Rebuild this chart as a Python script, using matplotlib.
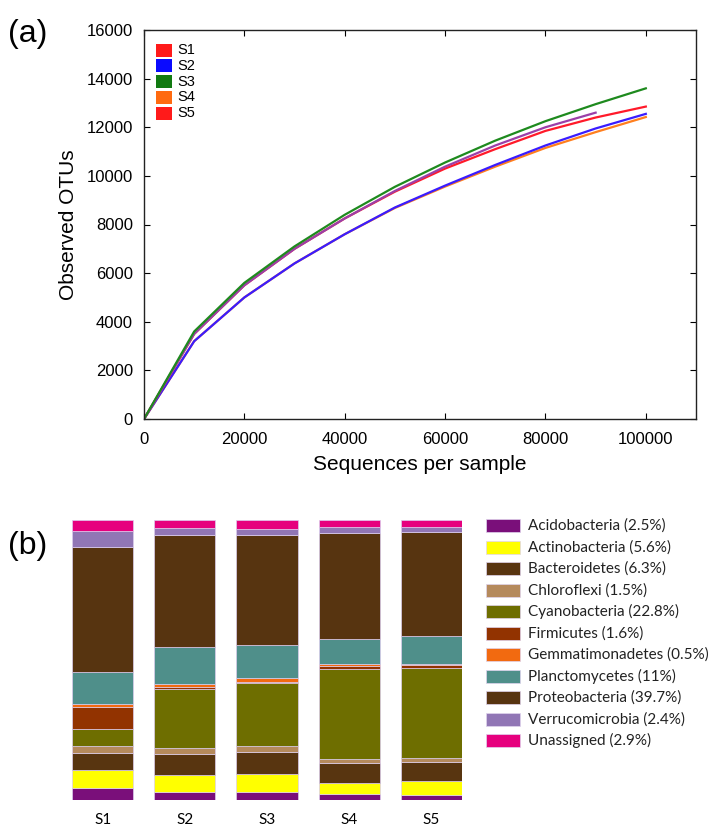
import matplotlib
matplotlib.use("Agg")
import matplotlib.pyplot as plt
from matplotlib.patches import Rectangle
import numpy as np

# ---------------- data: panel (a) rarefaction curves ----------------
seq_depth = [0, 10000, 20000, 30000, 40000, 50000, 60000, 70000, 80000, 90000, 100000]
otus_s1 = [0, 3500, 5500, 7000, 8250, 9350, 10300, 11100, 11850, 12400, 12850]
otus_s2 = [0, 3200, 5000, 6400, 7600, 8700, 9600, 10450, 11250, 11950, 12550]
otus_s3 = [0, 3600, 5600, 7100, 8400, 9550, 10550, 11450, 12250, 12950, 13600]
otus_s4 = [0, 3200, 5000, 6400, 7600, 8680, 9560, 10380, 11150, 11800, 12420]
seq_depth_s5 = [0, 10000, 20000, 30000, 40000, 50000, 60000, 70000, 80000, 90000]
otus_s5 = [0, 3500, 5500, 7000, 8250, 9380, 10380, 11250, 12000, 12600]

sample_names = ["S1", "S2", "S3", "S4", "S5"]
x_ticks_a = [0, 20000, 40000, 60000, 80000, 100000]
y_ticks_a = [0, 2000, 4000, 6000, 8000, 10000, 12000, 14000, 16000]

# ---------------- data: panel (b) phylum composition (%) ----------------
phyla = ["Acidobacteria (2.5%)", "Actinobacteria (5.6%)", "Bacteroidetes (6.3%)",
         "Chloroflexi (1.5%)", "Cyanobacteria (22.8%)", "Firmicutes (1.6%)",
         "Gemmatimonadetes (0.5%)", "Planctomycetes (11%)", "Proteobacteria (39.7%)",
         "Verrucomicrobia (2.4%)", "Unassigned (2.9%)"]
acidobacteria = [4.2, 3.0, 3.0, 2.1, 1.8]
actinobacteria = [6.6, 6.0, 6.2, 4.1, 4.9]
bacteroidetes = [6.0, 7.3, 7.9, 6.9, 6.7]
chloroflexi = [2.4, 2.1, 2.2, 1.6, 1.7]
cyanobacteria = [6.2, 21.1, 22.4, 32.1, 31.9]
firmicutes = [7.7, 0.8, 0.6, 1.0, 1.2]
gemmatimonadetes = [1.2, 1.2, 1.2, 0.6, 0.4]
planctomycetes = [11.5, 13.2, 11.9, 9.2, 9.8]
proteobacteria = [44.4, 39.9, 39.1, 37.9, 37.4]
verrucomicrobia = [6.0, 2.5, 2.4, 2.1, 1.8]
unassigned = [3.9, 3.0, 3.0, 2.5, 2.4]

phylum_values = [acidobacteria, actinobacteria, bacteroidetes, chloroflexi,
                 cyanobacteria, firmicutes, gemmatimonadetes, planctomycetes,
                 proteobacteria, verrucomicrobia, unassigned]
phylum_colors = ["#7a0f7a", "#ffff00", "#583510", "#b58a5c", "#6e6e00", "#923300",
                 "#f26a10", "#4f8f8a", "#573410", "#9176b5", "#e6007e"]

W, H = 718, 825
fig = plt.figure(figsize=(W / 100, H / 100), dpi=100)


def fx(x):
    return x / W


def fy(y):
    return 1 - y / H


# ---------------- panel (a) ----------------
ax = fig.add_axes([fx(144), fy(419), (696 - 144) / W, (419 - 30) / H])
lw = 1.6
ax.plot(seq_depth, otus_s4, color="#ff7f1e", lw=lw)
ax.plot(seq_depth, otus_s2, color="#3a1cff", lw=lw)
ax.plot(seq_depth, otus_s1, color="#ff1a2a", lw=lw)
ax.plot(seq_depth_s5, otus_s5, color="#9b3fa8", lw=lw)
ax.plot(seq_depth, otus_s3, color="#1e8a1e", lw=lw)
ax.set_xlim(0, 110000)
ax.set_ylim(0, 16000)
ax.set_xticks(x_ticks_a)
ax.set_yticks(y_ticks_a)
ax.set_xticklabels([str(v) for v in x_ticks_a], family="Liberation Sans")
ax.set_yticklabels([str(v) for v in y_ticks_a], family="Liberation Sans")
ax.tick_params(direction="in", top=True, right=True, labelsize=12, length=4,
               width=0.8, pad=8)
ax.tick_params(axis="x", pad=9)
for s in ax.spines.values():
    s.set_linewidth(1.0)
    s.set_color("#222222")
ax.set_xlabel("Sequences per sample", family="Liberation Sans", fontsize=15, labelpad=6)
ax.set_ylabel("Observed OTUs", family="Liberation Sans", fontsize=15, labelpad=6)

# legend of panel (a)
leg_a_colors = ["#ff1a1a", "#0a0aff", "#117a11", "#ff6a10", "#ff1a1a"]
for i, (name, c) in enumerate(zip(sample_names, leg_a_colors)):
    yc = 50 + 15.8 * i
    fig.add_artist(Rectangle((fx(156), fy(yc + 6.5)), 15.5 / W, 13 / H,
                             transform=fig.transFigure, facecolor=c, edgecolor="none"))
    fig.text(fx(177), fy(yc), name, family="Liberation Sans", fontsize=10.5,
             va="center", ha="left")

fig.text(fx(8), fy(34), "(a)", family="Liberation Sans", fontsize=23, va="center", ha="left")
fig.text(fx(8), fy(546), "(b)", family="Liberation Sans", fontsize=23, va="center", ha="left")

# ---------------- panel (b) ----------------
ax2 = fig.add_axes([fx(72), fy(800), (462 - 72) / W, 280 / H])
pos = np.arange(len(sample_names))
bw = 0.745
bottom = np.zeros(len(sample_names))
for vals, c in zip(phylum_values, phylum_colors):
    ax2.bar(pos, vals, bw, bottom=bottom, color=c, edgecolor="#dccdee", linewidth=0.5)
    bottom = bottom + np.array(vals)
ax2.set_xlim(-bw / 2, len(sample_names) - 1 + bw / 2)
ax2.set_ylim(0, 100)
for s in ax2.spines.values():
    s.set_visible(False)
ax2.set_yticks([])
ax2.set_xticks(pos)
ax2.set_xticklabels(sample_names, family="Lato", fontsize=11)
ax2.tick_params(axis="x", length=0, pad=9)

# legend of panel (b)
for i, (name, c) in enumerate(zip(phyla, phylum_colors)):
    yc = 525.7 + 21.5 * i
    fig.add_artist(Rectangle((fx(486), fy(yc + 6.5)), 34 / W, 13 / H,
                             transform=fig.transFigure, facecolor=c,
                             edgecolor="#e0d4ee", linewidth=0.5))
    fig.text(fx(528), fy(yc), name, family="Lato", fontsize=11,
             va="center", ha="left", color="#222222")

fig.savefig("out.png", dpi=100)
